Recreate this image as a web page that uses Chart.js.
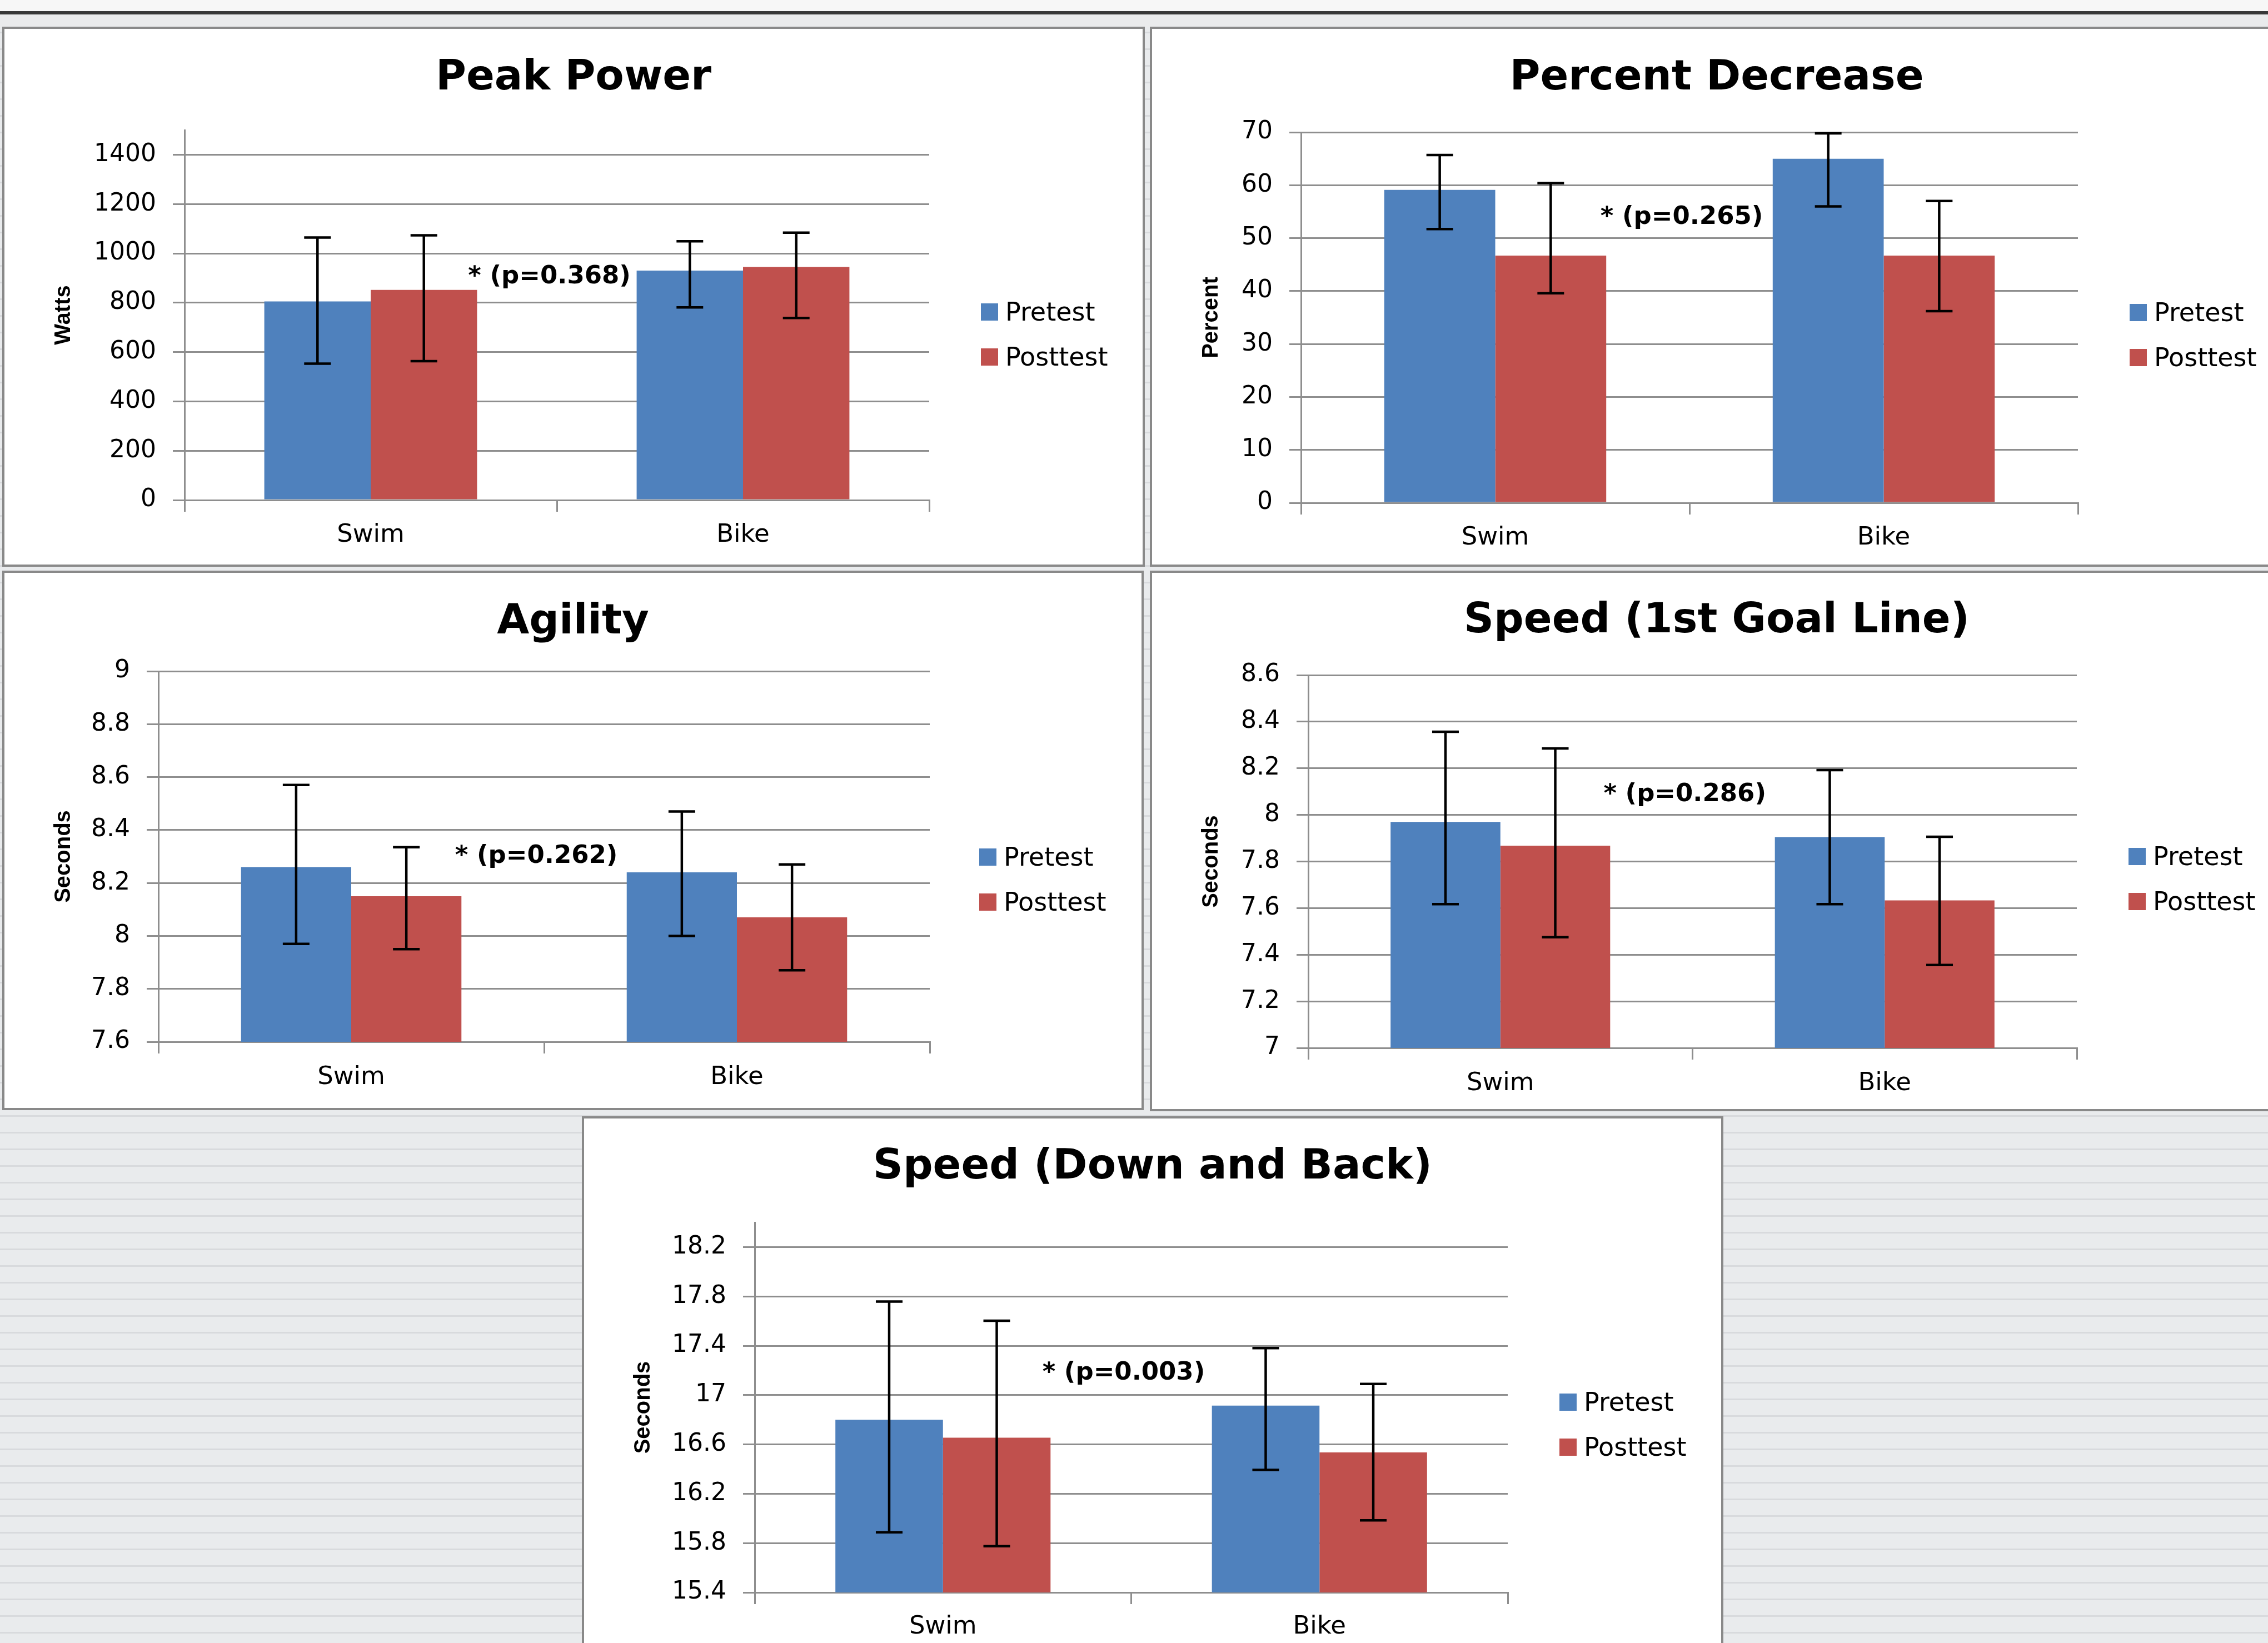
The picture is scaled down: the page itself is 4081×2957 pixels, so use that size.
<!DOCTYPE html>
<html>
<head>
<meta charset="utf-8">
<script src="https://cdn.jsdelivr.net/npm/chart.js@4.4.1/dist/chart.umd.min.js"></script>
<style>
    body {
        margin: 0;
        width: 4081px;
        height: 2957px;
        overflow: hidden;
        position: relative;
        background: repeating-linear-gradient(180deg, #e9ebed 0px, #e9ebed 27px, #d8dadd 27px, #d8dadd 30px);
    }
    .topband { position: absolute; left: 0; top: 0; width: 4081px; height: 20px; background: #f7f7f7; }
    .topline { position: absolute; left: 0; top: 20px; width: 4081px; height: 6px; background: #383838; }
    .topgap { position: absolute; left: 0; top: 26px; width: 4081px; height: 22px; background: #eaebec; }
    .panel {
        position: absolute;
        background: #fff;
        box-shadow: inset 0 0 0 4px #898989;
    }
    .panel canvas { position: absolute; left: 0; top: 0; }
    .legend { position: absolute; font-family: 'DejaVu Sans'; font-size: 46px; color: #000; }
    .legend .item { position: absolute; left: 0; white-space: nowrap; height: 50px; line-height: 50px; }
    .legend .box { position: absolute; left: 0; top: 10px; width: 31px; height: 31px; }
    .legend .txt { position: absolute; left: 44px; top: 0; }
</style>
</head>
<body>
<div class="topband"></div>
<div class="topline"></div>
<div class="topgap"></div>
<script>
// ---- data ----
const categories = ['Swim', 'Bike'];
const seriesNames = ['Pretest', 'Posttest'];

// Peak Power (Watts)
const powerTicks = [0, 200, 400, 600, 800, 1000, 1200, 1400];
const powerPre = [805, 930];
const powerPost = [852, 945];
const powerPreLow = [553, 781];
const powerPreHigh = [1064, 1049];
const powerPostLow = [563, 738];
const powerPostHigh = [1073, 1084];

// Percent Decrease (Percent)
const pctTicks = [0, 10, 20, 30, 40, 50, 60, 70];
const pctPre = [59.1, 65.0];
const pctPost = [46.7, 46.7];
const pctPreLow = [51.7, 56.0];
const pctPreHigh = [65.7, 69.8];
const pctPostLow = [39.6, 36.2];
const pctPostHigh = [60.4, 57.0];

// Agility (Seconds)
const agilityTicks = [7.6, 7.8, 8, 8.2, 8.4, 8.6, 8.8, 9];
const agilityPre = [8.26, 8.24];
const agilityPost = [8.15, 8.07];
const agilityPreLow = [7.97, 8.0];
const agilityPreHigh = [8.57, 8.47];
const agilityPostLow = [7.95, 7.87];
const agilityPostHigh = [8.335, 8.27];

// Speed (1st Goal Line) (Seconds)
const goalTicks = [7, 7.2, 7.4, 7.6, 7.8, 8, 8.2, 8.4, 8.6];
const goalPre = [7.97, 7.905];
const goalPost = [7.868, 7.633];
const goalPreLow = [7.617, 7.617];
const goalPreHigh = [8.357, 8.192];
const goalPostLow = [7.475, 7.356];
const goalPostHigh = [8.285, 7.906];

// Speed (Down and Back) (Seconds)
const backTicks = [15.4, 15.8, 16.2, 16.6, 17, 17.4, 17.8, 18.2];
const backPre = [16.8, 16.915];
const backPost = [16.654, 16.535];
const backPreLow = [15.888, 16.393];
const backPreHigh = [17.758, 17.381];
const backPostLow = [15.775, 15.985];
const backPostHigh = [17.603, 17.09];

const pNotes = ['* (p=0.368)', '* (p=0.265)', '* (p=0.262)', '* (p=0.286)', '* (p=0.003)'];
const pNoteValues = [904, 53.9, 8.30, 8.086, 17.176];

const blue = '#4f81bd';
const red = '#c0504d';
const gridGray = '#8e8e8e';

Chart.defaults.font.family = 'DejaVu Sans';
Chart.defaults.color = '#000';

// error bars drawn from the stored low/high values
const errorBars = {
    id: 'errorBars',
    afterDatasetsDraw(chart) {
        const ctx = chart.ctx;
        const y = chart.scales.y;
        ctx.save();
        ctx.strokeStyle = '#000';
        ctx.lineWidth = 4.5;
        chart.data.datasets.forEach((ds, i) => {
            chart.getDatasetMeta(i).data.forEach((bar, j) => {
                const top = y.getPixelForValue(ds.errHigh[j]);
                const bot = y.getPixelForValue(ds.errLow[j]);
                ctx.beginPath();
                ctx.moveTo(bar.x, top); ctx.lineTo(bar.x, bot);
                ctx.moveTo(bar.x - 24, top); ctx.lineTo(bar.x + 24, top);
                ctx.moveTo(bar.x - 24, bot); ctx.lineTo(bar.x + 24, bot);
                ctx.stroke();
            });
        });
        ctx.restore();
    }
};

// the "* (p=...)" note between the two groups
const noteText = {
    id: 'noteText',
    afterDatasetsDraw(chart, args, opts) {
        const ctx = chart.ctx;
        ctx.save();
        ctx.font = 'bold 45px "DejaVu Sans"';
        ctx.fillStyle = '#000';
        ctx.textAlign = 'center';
        ctx.textBaseline = 'middle';
        ctx.fillText(opts.text, chart.scales.x.getPixelForValue(0.48), chart.scales.y.getPixelForValue(opts.value));
        ctx.restore();
    }
};

const panels = [
    { title: 'Peak Power', yTitle: 'Watts', ticks: powerTicks, min: 0, max: 1500,
      pre: powerPre, post: powerPost, preLow: powerPreLow, preHigh: powerPreHigh, postLow: powerPostLow, postHigh: powerPostHigh,
      note: 0, x: 4, y: 48, w: 2056, h: 972, L: 328, R: 1668, T: 186, B: 852, titleY: 94, xLab: 915, legX: 1761, legY: 513 },
    { title: 'Percent Decrease', yTitle: 'Percent', ticks: pctTicks, min: 0, max: 70,
      pre: pctPre, post: pctPost, preLow: pctPreLow, preHigh: pctPreHigh, postLow: pctPostLow, postHigh: pctPostHigh,
      note: 1, x: 2069, y: 48, w: 2040, h: 972, L: 272, R: 1670, T: 190, B: 857, titleY: 94, xLab: 920, legX: 1763, legY: 514 },
    { title: 'Agility', yTitle: 'Seconds', ticks: agilityTicks, min: 7.6, max: 9,
      pre: agilityPre, post: agilityPost, preLow: agilityPreLow, preHigh: agilityPreHigh, postLow: agilityPostLow, postHigh: agilityPostHigh,
      note: 2, x: 4, y: 1027, w: 2054, h: 971, L: 281, R: 1669, T: 181, B: 848, titleY: 94, xLab: 912, legX: 1758, legY: 515 },
    { title: 'Speed (1st Goal Line)', yTitle: 'Seconds', ticks: goalTicks, min: 7, max: 8.6,
      pre: goalPre, post: goalPost, preLow: goalPreLow, preHigh: goalPreHigh, postLow: goalPostLow, postHigh: goalPostHigh,
      note: 3, x: 2069, y: 1027, w: 2040, h: 973, L: 285, R: 1668, T: 188, B: 859, titleY: 92, xLab: 923, legX: 1761, legY: 514 },
    { title: 'Speed (Down and Back)', yTitle: 'Seconds', ticks: backTicks, min: 15.4, max: 18.4,
      pre: backPre, post: backPost, preLow: backPreLow, preHigh: backPreHigh, postLow: backPostLow, postHigh: backPostHigh,
      note: 4, x: 1047, y: 2009, w: 2054, h: 1000, L: 311, R: 1666, T: 191, B: 857, titleY: 93, xLab: 919, legX: 1759, legY: 514 }
];

function makeChart(p) {
    const div = document.createElement('div');
    div.className = 'panel';
    div.style.left = p.x + 'px';
    div.style.top = p.y + 'px';
    div.style.width = p.w + 'px';
    div.style.height = p.h + 'px';
    const canvas = document.createElement('canvas');
    canvas.width = p.w;
    canvas.height = p.h;
    canvas.style.width = p.w + 'px';
    canvas.style.height = p.h + 'px';
    div.appendChild(canvas);
    document.body.appendChild(div);

    const chart = new Chart(canvas.getContext('2d'), {
        type: 'bar',
        data: {
            labels: categories,
            datasets: [
                { label: seriesNames[0], data: p.pre, errLow: p.preLow, errHigh: p.preHigh, backgroundColor: blue },
                { label: seriesNames[1], data: p.post, errLow: p.postLow, errHigh: p.postHigh, backgroundColor: red }
            ]
        },
        options: {
            responsive: false,
            animation: false,
            devicePixelRatio: 1,
            events: [],
            categoryPercentage: 0.5714,
            barPercentage: 1,
            layout: { padding: 0 },
            plugins: {
                legend: { display: false },
                tooltip: { enabled: false },
                title: {
                    display: true,
                    text: p.title,
                    color: '#000',
                    font: { size: 75, weight: 'bold' },
                    padding: { top: p.titleY - 45, bottom: p.T - p.titleY - 45 }
                },
                noteText: { text: pNotes[p.note], value: pNoteValues[p.note] }
            },
            scales: {
                x: {
                    grid: { drawOnChartArea: false, color: gridGray, lineWidth: 3, tickLength: 21 },
                    border: { color: gridGray, width: 3 },
                    ticks: { font: { size: 45 }, padding: p.xLab - p.B - 48 },
                    afterFit: s => { s.height = p.h - p.B; }
                },
                y: {
                    min: p.min,
                    max: p.max,
                    grid: { color: gridGray, lineWidth: 3, tickLength: 21 },
                    border: { color: gridGray, width: 3 },
                    ticks: { font: { size: 44 }, padding: 30, callback: v => String(v) },
                    title: {
                        display: true,
                        text: p.yTitle,
                        color: '#000',
                        font: { family: 'Liberation Sans', size: 40, weight: 'bold' },
                        padding: { top: 87, bottom: 0 }
                    },
                    afterBuildTicks: s => { s.ticks = p.ticks.map(v => ({ value: v })); },
                    afterFit: s => { s.width = p.L; }
                },
                // empty right-hand box that keeps the room for the legend
                legendRoom: {
                    type: 'linear',
                    position: 'right',
                    display: true,
                    grid: { display: false },
                    border: { display: false },
                    ticks: { display: false },
                    afterFit: s => { s.width = p.w - p.R; }
                }
            }
        },
        plugins: [errorBars, noteText]
    });

    // legend built from the chart's own legend items
    const leg = document.createElement('div');
    leg.className = 'legend';
    leg.style.left = p.legX + 'px';
    leg.style.top = (p.legY - 25) + 'px';
    chart.options.plugins.legend.labels.generateLabels(chart).forEach((it, i) => {
        const row = document.createElement('div');
        row.className = 'item';
        row.style.top = (i * 81) + 'px';
        row.innerHTML = '<span class="box" style="background:' + it.fillStyle + '"></span><span class="txt">' + it.text + '</span>';
        leg.appendChild(row);
    });
    div.appendChild(leg);
    return chart;
}

panels.forEach(makeChart);
</script>
</body>
</html>
